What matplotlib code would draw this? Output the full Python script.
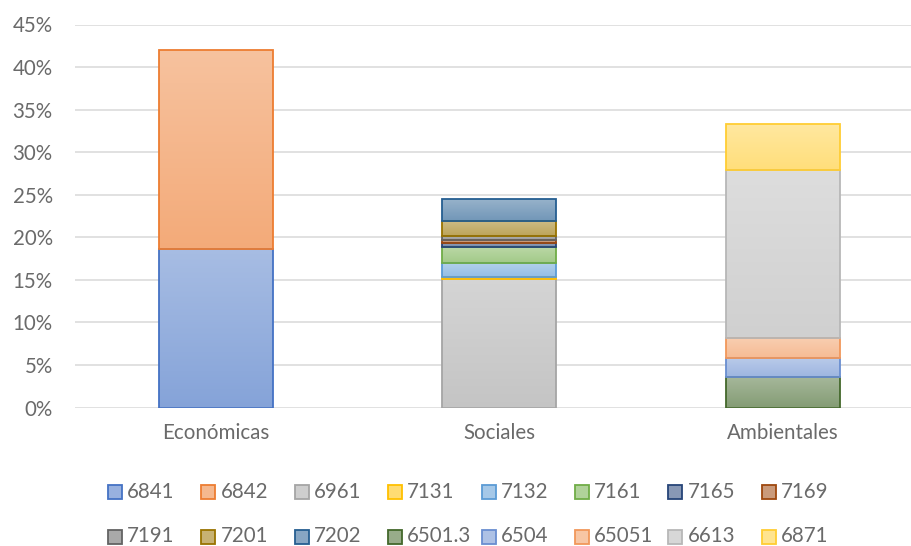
import numpy as np
import matplotlib.pyplot as plt
from matplotlib.patches import Rectangle
from matplotlib.colors import to_rgb

plt.rcParams['font.family'] = ['Lato', 'DejaVu Sans']

categorias = ['Económicas', 'Sociales', 'Ambientales']
series = ['6841', '6842', '6961', '7131', '7132', '7161', '7165', '7169',
          '7191', '7201', '7202', '6501.3', '6504', '65051', '6613', '6871']
colores = ['#4472C4', '#ED7D31', '#A5A5A5', '#FFC000', '#5B9BD5', '#70AD47',
           '#264478', '#9E480E', '#636363', '#997300', '#255E91', '#43682B',
           '#698ED0', '#F1975A', '#B7B7B7', '#FFCD33']

# valores (%) por categoria, en el orden de "series"
economicas = [18.6, 23.4, 0, 0, 0, 0, 0, 0, 0, 0, 0, 0, 0, 0, 0, 0]
sociales = [0, 0, 15.15, 0.2, 1.6, 1.9, 0.5, 0.3, 0.5, 1.8, 2.6, 0, 0, 0, 0, 0]
ambientales = [0, 0, 0, 0, 0, 0, 0, 0, 0, 0, 0, 3.6, 2.2, 2.35, 19.8, 5.4]

datos = np.array([economicas, sociales, ambientales]).T  # filas = series

gris = '#6A6A6A'
W, H = 912, 546
fs = 14.8


def tono(color, t):
    c = np.array(to_rgb(color))
    return c + (1 - c) * t


def gradiente(ax, rect, color):
    t = np.linspace(0, 1, 64)[:, None]
    img = tono(color, 0.35) + (tono(color, 0.53) - tono(color, 0.35)) * t
    x0, y0 = rect.get_xy()
    im = ax.imshow(img[:, None, :], extent=(x0, x0 + rect.get_width(), y0, y0 + rect.get_height()),
                   origin='lower', aspect='auto', interpolation='bilinear', zorder=2)
    im.set_clip_path(rect)


fig = plt.figure(figsize=(W / 100, H / 100), dpi=100)
ax = fig.add_axes([75 / W, 1 - 407.5 / H, (W - 75) / W, 383 / H])

x = np.arange(len(categorias))
base = np.zeros(len(categorias))
for nombre, col, vals in zip(series, colores, datos):
    idx = np.nonzero(vals > 0)[0]
    barras = ax.bar(x[idx], vals[idx], width=0.402, bottom=base[idx],
                    facecolor='none', edgecolor=col, linewidth=1.3, zorder=3)
    for r in barras:
        gradiente(ax, r, col)
    base += vals

ax.set_xlim(-0.497, 2.455)
ax.set_ylim(0, 45)
ax.set_yticks(np.arange(0, 46, 5))
ax.set_yticklabels([f'{v}%' for v in range(0, 46, 5)])
ax.set_xticks(x)
ax.set_xticklabels(categorias)
ax.tick_params(length=0, labelsize=fs, labelcolor=gris)
ax.tick_params(axis='y', pad=16)
ax.tick_params(axis='x', pad=11)
ax.yaxis.grid(True, color='#D9D9D9', linewidth=1.1, zorder=0)
ax.set_axisbelow(True)
for s in ax.spines.values():
    s.set_visible(False)

# leyenda en dos filas de ocho
for i, (nombre, col) in enumerate(zip(series, colores)):
    fila, columna = divmod(i, 8)
    px = 108 + columna * 93.4
    py = 491.5 + fila * 45
    fig.patches.append(Rectangle((px / W, 1 - (py + 7) / H), 14 / W, 14 / H,
                                 facecolor=tono(col, 0.45), edgecolor=col, linewidth=1.3,
                                 transform=fig.transFigure))
    fig.text((px + 19) / W, 1 - py / H, nombre, fontsize=fs, color=gris,
             va='center', ha='left')

fig.savefig('out.png', dpi=100)
